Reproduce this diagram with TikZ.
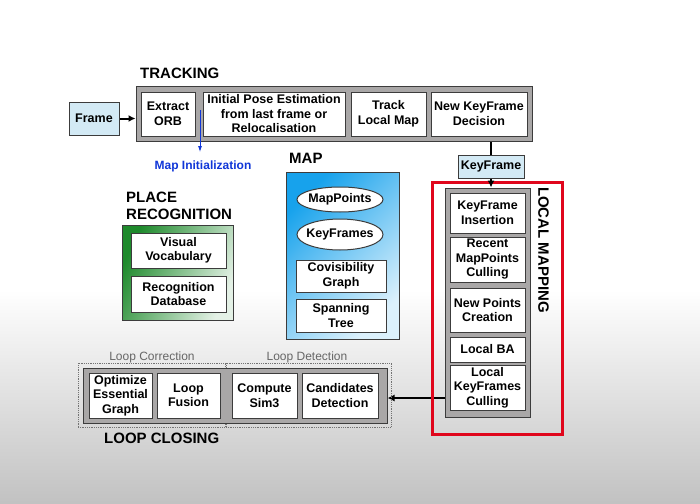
\documentclass[tikz,border=0pt]{standalone}
\usepackage{fontspec}
\setmainfont{Liberation Sans}
\usetikzlibrary{arrows.meta,shapes.geometric}
\pgfdeclarelayer{backlayer}
\pgfdeclarelayer{edgelayer}
\pgfdeclarelayer{nodelayer}
\pgfsetlayers{backlayer,edgelayer,nodelayer,main}
\definecolor{boxgray}{HTML}{A9A7A7}
\definecolor{edgegray}{HTML}{3C3C3C}
\definecolor{tokenblue}{HTML}{D3EAF5}
\definecolor{mapblue}{HTML}{17A2EC}
\definecolor{placegreen}{HTML}{1E8A2C}
\definecolor{lmred}{HTML}{E0061C}
\definecolor{initblue}{HTML}{1036D8}
\tikzset{font=\fontsize{12.5}{14.5}\selectfont\bfseries}
\tikzstyle{none}=[inner sep=0pt]
\tikzstyle{block}=[draw=edgegray,fill=white,line width=1pt,align=center,inner sep=0pt]
\tikzstyle{group}=[draw=edgegray,fill=boxgray,line width=1pt,inner sep=0pt]
\tikzstyle{token}=[draw=edgegray,fill=tokenblue,line width=1pt,align=center,inner sep=0pt]
\tikzstyle{store}=[ellipse,draw=edgegray,fill=white,line width=1pt,inner sep=-5pt]
\tikzstyle{title}=[font=\fontsize{15}{17}\selectfont\bfseries,align=left,inner sep=0pt]
\tikzstyle{sublabel}=[font=\fontsize{12}{14}\selectfont,text=black!60,inner sep=0pt]
\tikzstyle{dotbox}=[draw=black!55,densely dotted,line width=0.8pt,inner sep=0pt]
\tikzstyle{flow}=[line width=2pt,-{Latex[length=7pt,width=7pt]}]

\begin{document}
\begin{tikzpicture}[x=1pt,y=-1pt]
	\useasboundingbox (0,0) rectangle (700,503);
	\begin{pgfonlayer}{backlayer}
		\fill[white] (0,0) rectangle (700,290);
		\shade[top color=white,bottom color=black!24] (0,290) rectangle (700,503);
	\end{pgfonlayer}
	\begin{pgfonlayer}{nodelayer}
		% tracking
		\node [style=title, anchor=west] (6) at (140,73) {TRACKING};
		\node [style=token, minimum width=50, minimum height=33] (0) at (94,118.5) {Frame};
		\node [style=group, minimum width=396, minimum height=55] (1) at (334,113.5) {};
		\node [style=block, minimum width=54, minimum height=44] (2) at (168,114) {Extract\\ORB};
		\node [style=block, minimum width=142, minimum height=44] (3) at (274,114) {Initial Pose Estimation\\from last frame or\\Relocalisation};
		\node [style=block, minimum width=75, minimum height=44] (4) at (388.5,114) {Track\\Local Map};
		\node [style=block, minimum width=96, minimum height=44] (5) at (479,114) {New KeyFrame\\Decision};
		\node [style=none] (7) at (200,110) {};
		\node [style=none] (8) at (200,152) {};
		\node [style=none, text=initblue, font=\fontsize{12}{14}\selectfont\bfseries] (9) at (203,166) {Map Initialization};
		\node [style=token, minimum width=66, minimum height=23] (10) at (491,166.5) {KeyFrame};
		% local mapping
		\node [draw=lmred, line width=3pt, minimum width=130, minimum height=252] (11) at (497,308) {};
		\node [style=group, minimum width=85, minimum height=229] (12) at (487.5,302.5) {};
		\node [style=block, minimum width=75, minimum height=40] (13) at (487.5,213) {KeyFrame\\Insertion};
		\node [style=block, minimum width=75, minimum height=45] (14) at (487.5,259.5) {Recent\\MapPoints\\Culling};
		\node [style=block, minimum width=75, minimum height=44] (15) at (487.5,310) {New Points\\Creation};
		\node [style=block, minimum width=75, minimum height=25] (16) at (487.5,349.5) {Local BA};
		\node [style=block, minimum width=75, minimum height=45] (17) at (487.5,387.5) {Local\\KeyFrames\\Culling};
		\node [style=title, rotate=-90] (18) at (543.5,250) {LOCAL MAPPING};
		% place recognition
		\node [style=title, anchor=west] (19) at (126,205.5) {PLACE\\RECOGNITION};
		\node [draw=edgegray, line width=1pt, left color=placegreen, right color=placegreen!12, shading angle=65, minimum width=111, minimum height=95] (20) at (177.5,272.5) {};
		\node [style=block, minimum width=95, minimum height=35] (21) at (178.5,250.5) {Visual\\Vocabulary};
		\node [style=block, minimum width=95, minimum height=36] (22) at (178.5,294) {Recognition\\Database};
		% map
		\node [style=title, anchor=west] (23) at (289,158) {MAP};
		\node [draw=edgegray, line width=1pt, left color=mapblue, right color=mapblue!15, shading angle=45, minimum width=113, minimum height=167] (24) at (342.5,255.5) {};
		\node [style=store, minimum width=86, minimum height=25] (25) at (340,199.5) {MapPoints};
		\node [style=store, minimum width=86, minimum height=31] (26) at (340,234.5) {KeyFrames};
		\node [style=block, minimum width=90, minimum height=32] (27) at (341,276) {Covisibility\\Graph};
		\node [style=block, minimum width=90, minimum height=33] (28) at (341,315.5) {Spanning\\Tree};
		% loop closing
		\node [style=dotbox, minimum width=147, minimum height=64] (29) at (151.5,395) {};
		\node [style=dotbox, minimum width=165, minimum height=64] (30) at (308.5,395) {};
		\node [style=group, minimum width=304, minimum height=55] (31) at (235,395.5) {};
		\node [style=block, minimum width=63, minimum height=45] (32) at (120.5,395.5) {Optimize\\Essential\\Graph};
		\node [style=block, minimum width=63, minimum height=45] (33) at (188.5,395.5) {Loop\\Fusion};
		\node [style=block, minimum width=65, minimum height=45] (34) at (264.5,395.5) {Compute\\Sim3};
		\node [style=block, minimum width=76, minimum height=45] (35) at (340,395.5) {Candidates\\Detection};
		\node [style=sublabel] (36) at (152,357) {Loop Correction};
		\node [style=sublabel] (37) at (307,357) {Loop Detection};
		\node [style=title, anchor=west] (38) at (104,438) {LOOP CLOSING};
	\end{pgfonlayer}
	\begin{pgfonlayer}{edgelayer}
		\draw [style=flow] (0.east) to (0.east -| 1.west);
		\draw [line width=2pt] (1.south -| 10.north) to (10.north);
		\draw [style=flow] ([yshift=-10.5pt]17.west) to ([yshift=-10.5pt]17.west -| 31.east);
	\end{pgfonlayer}
	\draw [style=flow] (10.south) to (10.south |- 12.north);
	\draw [initblue, line width=0.8pt, -{Latex[length=6pt,width=4pt]}] (7.center) to (8.center);
\end{tikzpicture}
\end{document}
